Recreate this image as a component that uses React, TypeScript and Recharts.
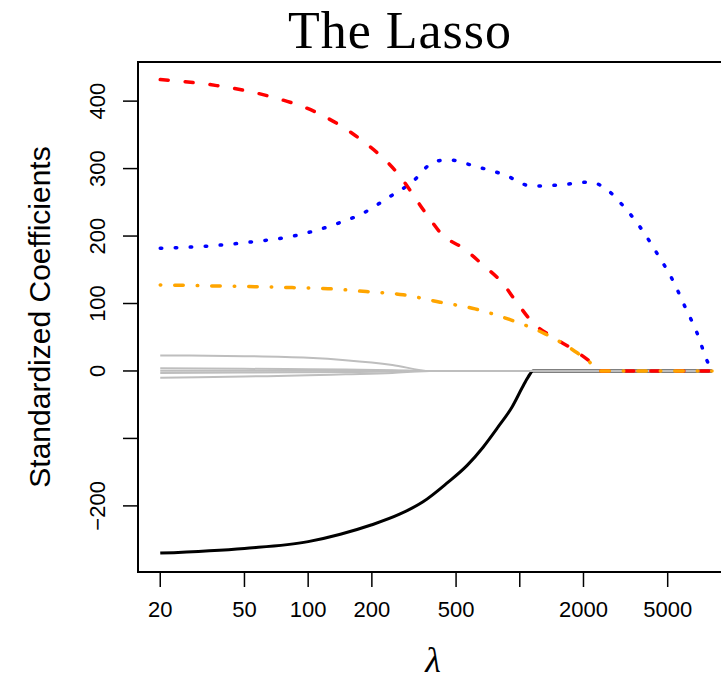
import React from 'react'
import { LineChart, Line, XAxis, YAxis, ReferenceArea } from 'recharts'

// lasso path (lambda on log axis)
const redLambda = [20, 37, 64, 108, 172, 263, 365, 430, 540, 671, 825, 971, 1156, 1436, 1866, 2318, 2380, 8100]
const redCoef = [432, 423, 408, 384, 346, 294, 231, 202, 182, 157, 131, 101, 71, 50, 28, 4, 0, 0]

const blueLambda = [20, 33, 53, 85, 136, 182, 239, 310, 394, 458, 622, 843, 1143, 1567, 2148, 2475, 3114, 3785, 4498, 5293, 6040, 6888, 7677, 8100]
const blueCoef = [182, 185, 191, 200, 218, 234, 257, 280, 310, 313, 303, 291, 274, 276, 280, 273, 243, 209, 172, 134, 95, 56, 15, 0]

const orangeLambda = [20, 37, 56, 84, 124, 188, 281, 420, 615, 900, 1318, 1866, 2197, 2380, 8100]
const orangeCoef = [127.6, 126, 125, 123.6, 122, 117.7, 113, 102, 92, 76, 55, 27, 10, 0, 0]

const blackLambda = [20, 50, 100, 142, 200, 272, 349, 454, 564, 671, 790, 921, 1026, 1095, 1156, 8100]
const blackCoef = [-270, -263, -253, -242, -228, -212, -194, -166, -140, -113, -83, -53, -25, -9, 0, 0]

const grayLambda = [20, 50, 100, 150, 250, 377, 8100]
const gray1 = [23, 22, 19.5, 16, 9, 0, 0]
const gray2 = [4, 3.2, 2.6, 2, 1.2, 0, 0]
const gray3 = [0.5, 0.4, 0.3, 0.25, 0.15, 0, 0]
const gray4 = [-3, -2.4, -1.9, -1.5, -0.9, 0, 0]
const gray5 = [-10, -8.2, -6.5, -5, -3, 0, 0]

const xTicks = [20, 50, 100, 200, 500, 1000, 2000, 5000]
const yTicks = [-200, -100, 0, 100, 200, 300, 400]
const xDomain: [number, number] = [15.7, 10400]
const yDomain: [number, number] = [-298, 458]

const pts = (ls: number[], cs: number[]) => ls.map((l, i) => ({ l, c: cs[i] }))

const FONT = '"Liberation Sans", Arial, Helvetica, sans-serif'
const SERIF = '"Liberation Serif", "Times New Roman", serif'

const XTick = (props: any) => {
    const { x, y, payload } = props
    if (payload.value === 1000) return <g />
    return (
        <text x={x} y={y + 28} textAnchor="middle" fontSize={22} fontFamily={FONT} fill="#000">
            {payload.value}
        </text>
    )
}

const YTick = (props: any) => {
    const { x, y, payload } = props
    if (payload.value === -100) return <g />
    const bx = x - 16
    const label = payload.value < 0 ? `\u2212${Math.abs(payload.value)}` : `${payload.value}`
    return (
        <text x={bx} y={y} transform={`rotate(-90 ${bx} ${y})`} textAnchor="middle" fontSize={22} fontFamily={FONT} fill="#000">
            {label}
        </text>
    )
}

const grays = [gray1, gray2, gray3, gray4, gray5]

export default function App() {
    return (
        <div style={{ position: 'absolute', left: 0, top: 0, width: 721, height: 686, overflow: 'hidden', background: '#fff' }}>
            <LineChart width={760} height={686} margin={{ top: 62, right: 25, bottom: 0, left: 0 }}>
                <XAxis
                    dataKey="l"
                    type="number"
                    scale="log"
                    domain={xDomain}
                    allowDataOverflow
                    ticks={xTicks}
                    interval={0}
                    height={114}
                    axisLine={false}
                    tickSize={15}
                    tickLine={{ stroke: '#000', strokeWidth: 1.5 }}
                    tick={<XTick />}
                />
                <YAxis
                    type="number"
                    domain={yDomain}
                    allowDataOverflow
                    ticks={yTicks}
                    interval={0}
                    width={138}
                    axisLine={false}
                    tickSize={15}
                    tickLine={{ stroke: '#000', strokeWidth: 1.5 }}
                    tick={<YTick />}
                />
                <ReferenceArea x1={xDomain[0]} x2={xDomain[1]} y1={yDomain[0]} y2={yDomain[1]} fill="none" stroke="#000" strokeWidth={2} ifOverflow="visible" />
                <Line data={pts(blackLambda, blackCoef)} dataKey="c" type="monotone" stroke="#000" strokeWidth={3} dot={false} activeDot={false} isAnimationActive={false} />
                {grays.map((g, i) => (
                    <Line key={i} data={pts(grayLambda, g)} dataKey="c" type="monotone" stroke="#BEBEBE" strokeWidth={2} dot={false} activeDot={false} isAnimationActive={false} />
                ))}
                <Line data={pts(blueLambda, blueCoef)} dataKey="c" type="monotone" stroke="#0000FF" strokeWidth={3.5} strokeDasharray="1.5 13.5" strokeLinecap="round" dot={false} activeDot={false} isAnimationActive={false} />
                <Line data={pts(redLambda, redCoef)} dataKey="c" type="monotone" stroke="#FF0000" strokeWidth={3.5} strokeDasharray="8 17" strokeLinecap="round" dot={false} activeDot={false} isAnimationActive={false} />
                <Line data={pts(orangeLambda, orangeCoef)} dataKey="c" type="monotone" stroke="#FFA500" strokeWidth={3.5} strokeDasharray="0.5 14 8.5 14" strokeLinecap="round" dot={false} activeDot={false} isAnimationActive={false} />
            </LineChart>
            <svg width={721} height={686} style={{ position: 'absolute', left: 0, top: 0, pointerEvents: 'none' }}>
                <text x={400} y={48} textAnchor="middle" fontSize={52} letterSpacing={1} fontFamily={SERIF} fill="#000">
                    The Lasso
                </text>
                <text x={50} y={317} transform="rotate(-90 50 317)" textAnchor="middle" fontSize={30} fontFamily={FONT} fill="#000">
                    Standardized Coefficients
                </text>
                <text x={433} y={672} textAnchor="middle" fontSize={36} fontStyle="italic" fontFamily={SERIF} fill="#000">
                    λ
                </text>
            </svg>
        </div>
    )
}
